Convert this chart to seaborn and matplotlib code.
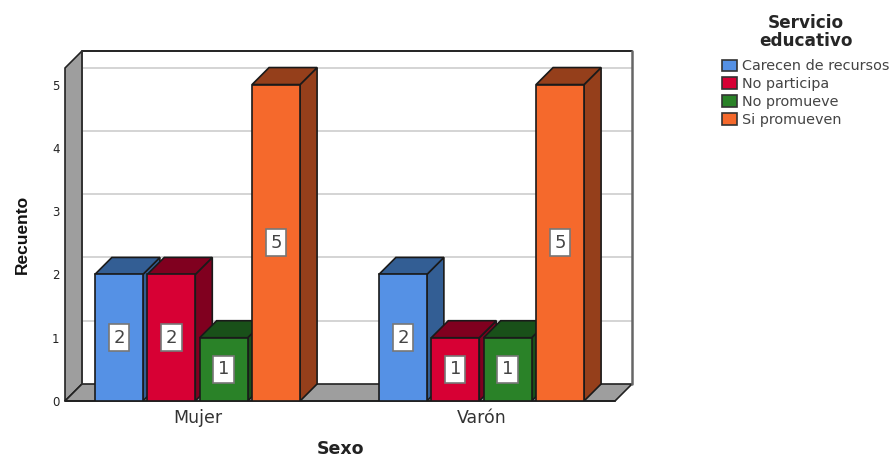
import pandas as pd
import matplotlib
matplotlib.use("Agg")
import matplotlib.pyplot as plt
from matplotlib.patches import Polygon
import seaborn as sns

SEXO = ['Mujer', 'Varón']
SERVICIO = ['Carecen de recursos', 'No participa', 'No promueve', 'Si promueven']
RECUENTO = {
    'Carecen de recursos': [2, 2],
    'No participa': [2, 1],
    'No promueve': [1, 1],
    'Si promueven': [5, 5],
}
YTICKS = [0, 1, 2, 3, 4, 5]
FRONT = ['#5591E5', '#D70034', '#2A8228', '#F5692C']
SIDE = ['#335E94', '#80001F', '#195019', '#953F1B']
TOP = ['#335E94', '#80001F', '#195019', '#953F1B']

W, H = 893, 458
# depth of the fake 3d box, in data units
DX = 17 / 284
DY = 17 / 63.3
X0, X1 = -0.4665, 1.53
Y1 = 5.53

rows = []
for serv in SERVICIO:
    for sexo, val in zip(SEXO, RECUENTO[serv]):
        rows.append({'Sexo': sexo, 'Servicio': serv, 'Recuento': val})
df = pd.DataFrame(rows)

sns.set_theme(style='white')
plt.rcParams['font.family'] = ['DejaVu Sans']

fig = plt.figure(figsize=(W / 100, H / 100), dpi=100)
ax = fig.add_axes([65 / W, 1 - 401 / H, (632 - 65) / W, (401 - 51) / H])

sns.barplot(data=df, x='Sexo', y='Recuento', hue='Servicio', order=SEXO, hue_order=SERVICIO,
            palette=FRONT, saturation=1, width=0.738, gap=0.084, edgecolor='#1a1a1a', linewidth=1.2,
            ax=ax, zorder=5)
handles, labels = ax.get_legend_handles_labels()
ax.get_legend().remove()

ax.set_xlim(X0, X1)
ax.set_ylim(0, Y1)
for s in ax.spines.values():
    s.set_visible(False)

# back wall, left wall and floor
fx, bx = X0, X0 + DX
rx = X1 - DX
top = Y1 - DY
ax.add_patch(Polygon([(fx, 0), (bx, DY), (bx, Y1), (fx, top)], fc='#9E9E9E', ec='#222222', lw=1.2, zorder=1, clip_on=False))
ax.add_patch(Polygon([(fx, 0), (bx, DY), (X1, DY), (rx, 0)], fc='#9E9E9E', ec='#222222', lw=1.2, zorder=1, clip_on=False))
for v in YTICKS[1:]:
    ax.plot([bx, X1], [v + DY, v + DY], color='#D4D4D4', lw=1.4, zorder=0.5, clip_on=False)
ax.plot([bx, X1], [Y1, Y1], color='#111111', lw=1.3, zorder=2, clip_on=False)
ax.plot([X1, X1], [DY, Y1], color='#666666', lw=1.8, zorder=2, clip_on=False)
ax.plot([bx, bx], [DY, Y1], color='#333333', lw=1.2, zorder=2, clip_on=False)
ax.plot([fx, rx], [0, 0], color='#222222', lw=1.4, zorder=2, clip_on=False)

# side and top faces, painted left to right so each bar hides the one before
bars = []
for i, cont in enumerate(ax.containers):
    for p in cont:
        bars.append((p.get_x(), p, i))
bars.sort(key=lambda b: b[0])
for k, (x, p, i) in enumerate(bars):
    z = 3 + k
    w, h = p.get_width(), p.get_height()
    ax.add_patch(Polygon([(x + w, 0), (x + w + DX, DY), (x + w + DX, h + DY), (x + w, h)],
                         fc=SIDE[i], ec='#1a1a1a', lw=1.2, zorder=z))
    ax.add_patch(Polygon([(x, h), (x + DX, h + DY), (x + w + DX, h + DY), (x + w, h)],
                         fc=TOP[i], ec='#1a1a1a', lw=1.2, zorder=z))
    p.set_zorder(z + 0.5)

for cont in ax.containers:
    for t in ax.bar_label(cont, label_type='center', fontsize=13, color='#444444',
                          bbox=dict(boxstyle='square,pad=0.25', fc='white', ec='#777777', lw=1.2)):
        t.set_zorder(50)

ax.set_yticks(YTICKS)
ax.set_yticklabels([str(v) for v in YTICKS], fontsize=8.5, color='#222222')
ax.tick_params(axis='y', length=0, pad=4)
ax.tick_params(axis='x', length=0, pad=6, labelsize=12.5, labelcolor='#333333')
ax.set_xlabel('')
ax.set_ylabel('')

fig.text(22 / W, 1 - 234 / H, 'Recuento', rotation=90, ha='center', va='center', fontsize=12.5,
         fontweight='bold', family='Liberation Sans', color='#111111')
fig.text(340 / W, 1 - 449 / H, 'Sexo', ha='center', va='center', fontsize=12.5,
         fontweight='bold', color='#222222')

leg = fig.legend(handles, labels, title='Servicio\neducativo', loc='upper left',
                 bbox_to_anchor=(718 / W, 1 - 10 / H), frameon=False, fontsize=10.4,
                 title_fontproperties={'weight': 'bold', 'size': 12.2}, handlelength=1.0, handleheight=0.85,
                 handletextpad=0.35, labelspacing=0.27, borderpad=0.3, borderaxespad=0, alignment='center')
for t in leg.get_texts():
    t.set_color('#444444')
for h in leg.get_patches():
    h.set_edgecolor('#333333')
leg.get_title().set_linespacing(0.95)
leg.get_title().set_multialignment('center')
# a bit more air between title and entries
leg._legend_box.sep = 7

fig.savefig('out.png', dpi=100)
